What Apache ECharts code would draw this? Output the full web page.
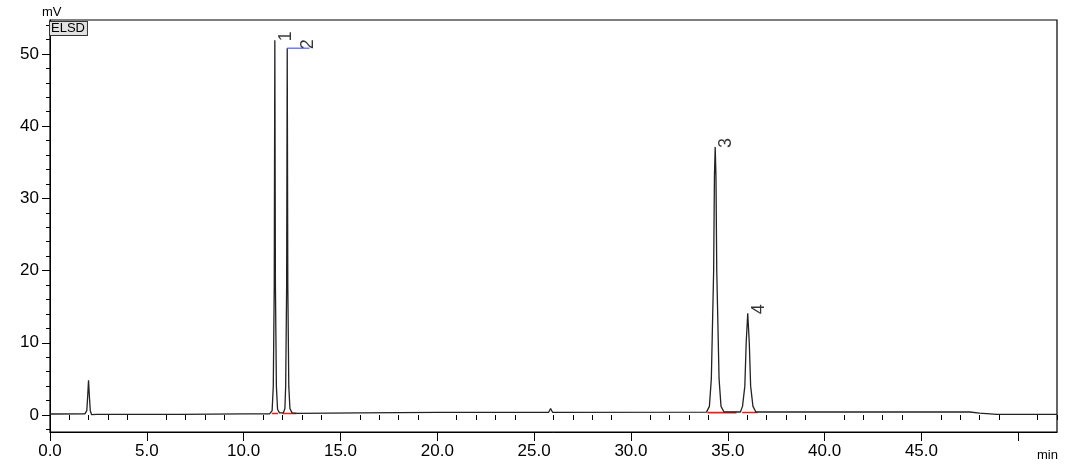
<!DOCTYPE html>
<html>
<head>
<meta charset="utf-8">
<script src="https://cdn.jsdelivr.net/npm/echarts@6/dist/echarts.min.js"></script>
<style>html,body{margin:0;padding:0;background:#fff}#c{width:1080px;height:475px}</style>
</head>
<body>
<div id="c"></div>
<script>
// ---- data ----
const traceTime = [0.00,1.80,1.90,1.95,1.99,2.03,2.08,2.15,2.40,6.70,6.80,10.0,11.35,11.47,11.53,11.58,11.61,11.64,11.69,11.75,11.85,12.05,12.13,12.17,12.22,12.25,12.28,12.33,12.39,12.50,12.80,16.0,20.0,25.75,25.85,25.95,33.90,34.05,34.15,34.27,34.31,34.35,34.39,34.43,34.55,34.65,34.80,35.65,35.76,35.88,35.95,36.03,36.11,36.18,36.30,36.45,41.00,41.10,41.20,47.50,48.00,48.90,52.0];
const traceMv   = [0.14,0.16,0.6,2.8,4.8,2.8,0.6,0.05,0.08,0.10,0.14,0.15,0.18,0.6,4,18,51.9,18,4,0.8,0.3,0.3,0.9,4,18,50.8,18,4,0.9,0.3,0.24,0.3,0.37,0.38,0.9,0.38,0.4,1.2,5,20,33,37.1,33,20,5,1.2,0.45,0.42,1.2,4,10,14.1,10,4,1.2,0.42,0.42,0.55,0.42,0.42,0.25,0.1,0.1];

const peakLabels  = ['1','2','3','4'];
const peakTimes   = [11.61, 12.25, 34.35, 36.03];
const peakHeights = [51.9, 50.8, 37.1, 14.1];

// baseline segments: [start, end, level]
const baseSegs = [[11.45,11.78,0.22],[12.00,12.72,0.22],[33.95,35.45,0.33],[35.74,36.53,0.36]];
// peak-2 tag line
const tagLine = [[12.25,50.8],[13.40,50.8]];

const xMajorTicks = [0,5,10,15,20,25,30,35,40,45,50];
const xMinorTicks = [1,2,3,4,6,7,8,9,11,12,13,14,16,17,18,19,21,22,23,24,26,27,28,29,31,32,33,34,36,37,38,39,41,42,43,44,46,47,48,49,51,52];
const yMajorTicks = [0,10,20,30,40,50];
const yMinorTicks = [-2,2,4,6,8,12,14,16,18,22,24,26,28,32,34,36,38,42,44,46,48,52,54];

// ---- chart ----
const FONT = "'Liberation Sans', Arial, sans-serif";
const trace = traceTime.map((t,i)=>[t, traceMv[i]]);
const segData = [];
baseSegs.forEach(s=>{ segData.push([s[0],s[2]],[s[1],s[2]],'-'); });

const X_MIN=0, X_MAX=52, Y_MIN=-2.35, Y_MAX=54.7;
const chart = echarts.init(document.getElementById('c'), null, {renderer:'canvas'});
const axisBase = {
  type: 'value',
  splitLine:{show:false},
  axisLine:{show:true, onZero:false, lineStyle:{color:'#000', width:1}},
};
chart.setOption({
  animation:false,
  backgroundColor:'#fff',
  grid:{left:50, right:23, top:20, bottom:43, show:true, borderColor:'#000', borderWidth:1.2, containLabel:false},
  xAxis:[
    Object.assign({}, axisBase, {min:X_MIN, max:X_MAX, position:'bottom',
      axisTick:{show:true, inside:false, length:9, customValues:xMajorTicks, lineStyle:{color:'#000'}},
      axisLabel:{show:true, margin:11, customValues:xMajorTicks.filter(v=>v<50), fontFamily:FONT, fontSize:17, color:'#000',
        formatter:v=>v.toFixed(1)}}),
    Object.assign({}, axisBase, {min:X_MIN, max:X_MAX, position:'bottom',
      axisLine:{show:false},
      axisTick:{show:true, inside:false, length:5, customValues:xMinorTicks, lineStyle:{color:'#000'}},
      axisLabel:{show:false}})
  ],
  yAxis:[
    Object.assign({}, axisBase, {min:Y_MIN, max:Y_MAX, position:'left',
      axisTick:{show:true, inside:false, length:8, customValues:yMajorTicks, lineStyle:{color:'#000'}},
      axisLabel:{show:true, margin:11, customValues:yMajorTicks, fontFamily:FONT, fontSize:17, color:'#000',
        formatter:v=>String(v)}}),
    Object.assign({}, axisBase, {min:Y_MIN, max:Y_MAX, position:'left',
      axisLine:{show:false},
      axisTick:{show:true, inside:false, length:4, customValues:yMinorTicks, lineStyle:{color:'#000'}},
      axisLabel:{show:false}})
  ],
  graphic:[
    {type:'text', left:42, top:6, style:{text:'mV', font:'13px '+FONT, fill:'#000'}},
    {type:'text', left:1037, top:449, style:{text:'min', font:'13px '+FONT, fill:'#000'}},
    {type:'text', left:49, top:21, z:100, style:{text:'ELSD', font:'13px '+FONT, fill:'#000',
      backgroundColor:'#e2e2e2', borderColor:'#333', borderWidth:1, padding:[0,2,0,1]}}
  ],
  series:[
    {type:'line', xAxisIndex:0, yAxisIndex:0, data:segData, symbol:'none', connectNulls:false,
      lineStyle:{color:'#e8201a', width:1.6}, silent:true, z:1},
    {type:'line', xAxisIndex:0, yAxisIndex:0, data:trace, symbol:'none', smooth:false,
      lineStyle:{color:'#222', width:1.3}, silent:true, z:2},
    {type:'line', xAxisIndex:0, yAxisIndex:0, data:tagLine, symbol:'none',
      lineStyle:{color:'#2b3cff', width:1}, silent:true, z:3},
    {type:'scatter', xAxisIndex:0, yAxisIndex:0, symbolSize:0, silent:true, z:4,
      data: peakTimes.map((t,i)=>({value:[t, peakHeights[i]], name:peakLabels[i],
        label:{position:[i===1?12:2, 1]}})),
      label:{show:true, formatter:p=>p.name, rotate:90, align:'left', verticalAlign:'top',
        fontFamily:FONT, fontSize:18, color:'#000'}}
  ]
});
</script>
</body>
</html>
